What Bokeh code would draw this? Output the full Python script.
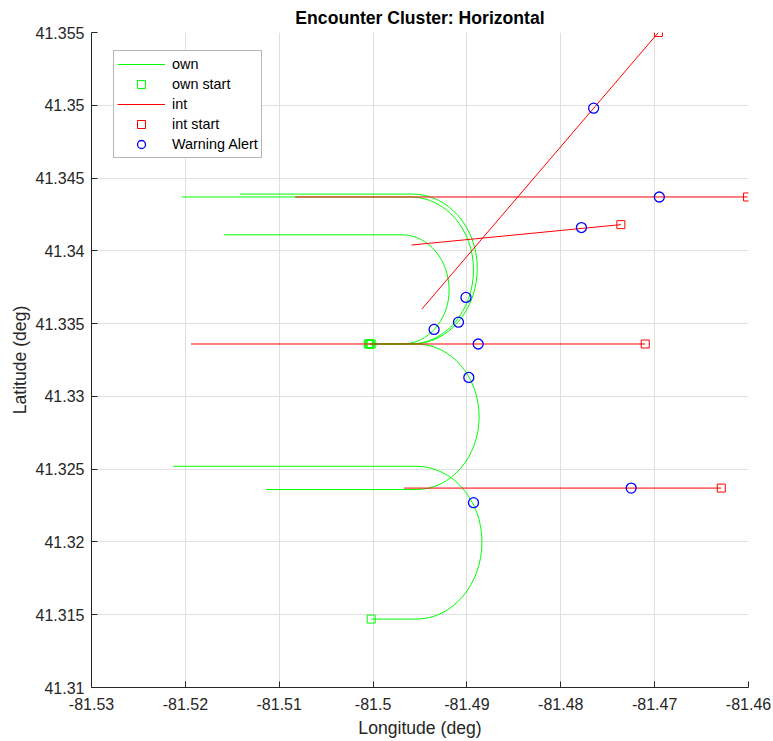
from bokeh.plotting import figure
from bokeh.models import Range1d, FixedTicker, Legend, LegendItem, ColumnDataSource
from bokeh.embed import file_html
from bokeh.resources import INLINE

TITLE = "Encounter Cluster: Horizontal"
X_LABEL = "Longitude (deg)"
Y_LABEL = "Latitude (deg)"

x_ticks = [-81.53, -81.52, -81.51, -81.50, -81.49, -81.48, -81.47, -81.46]
x_tick_labels = ["-81.53", "-81.52", "-81.51", "-81.5", "-81.49", "-81.48", "-81.47", "-81.46"]
y_ticks = [41.31, 41.315, 41.32, 41.325, 41.33, 41.335, 41.34, 41.345, 41.35, 41.355]
y_tick_labels = ["41.31", "41.315", "41.32", "41.325", "41.33", "41.335", "41.34", "41.345", "41.35", "41.355"]

# Own-ship tracks, waypoints: [start, turn entry, turn apex, turn exit, end]
own_lon = [
    [-81.5005, -81.4958, -81.4889, -81.4958, -81.5142],
    [-81.5004, -81.4960, -81.4893, -81.4960, -81.5204],
    [-81.5003, -81.4969, -81.4919, -81.4969, -81.5159],
    [-81.5002, -81.4954, -81.4887, -81.4954, -81.5114],
    [-81.5002, -81.4954, -81.4884, -81.4954, -81.5213],
]
own_lat = [
    [41.3336, 41.3336, 41.3388, 41.3439, 41.3439],
    [41.3336, 41.3336, 41.3387, 41.3437, 41.3437],
    [41.3336, 41.3336, 41.3373, 41.3411, 41.3411],
    [41.3336, 41.3336, 41.3286, 41.3236, 41.3236],
    [41.3147, 41.3147, 41.3200, 41.3252, 41.3252],
]

# Intruder tracks: [start, end]
int_lon = [
    [-81.4696, -81.4948],
    [-81.4601, -81.5083],
    [-81.4736, -81.4959],
    [-81.4710, -81.5194],
    [-81.4629, -81.4967],
]
int_lat = [
    [41.3550, 41.3360],
    [41.3437, 41.3437],
    [41.3418, 41.3404],
    [41.3336, 41.3336],
    [41.3237, 41.3237],
]

# Warning alerts
alert_lon = [-81.4765, -81.4695, -81.4778, -81.4901, -81.4909, -81.4935, -81.4888, -81.4898, -81.4893, -81.4725]
alert_lat = [41.3498, 41.3437, 41.3416, 41.3368, 41.3351, 41.3346, 41.3336, 41.3313, 41.3227, 41.3237]

GREEN = "#00ff00"
RED = "#ff0000"
BLUE = "#0000ff"
AX = "#262626"
FONT = "Liberation Sans"

p = figure(width=773, height=741, output_backend="svg", toolbar_location=None,
           x_range=Range1d(-81.53, -81.46), y_range=Range1d(41.31, 41.355),
           min_border_left=91, min_border_right=25, min_border_top=32, min_border_bottom=54,
           title=TITLE)
p.outline_line_color = None
p.background_fill_color = "white"
p.border_fill_color = "white"

p.title.align = "center"
p.title.text_font = FONT
p.title.text_font_size = "17.6px"
p.title.text_font_style = "bold"
p.title.text_color = "#000000"
p.title.standoff = 9

p.xaxis.ticker = FixedTicker(ticks=x_ticks)
p.yaxis.ticker = FixedTicker(ticks=y_ticks)
p.xaxis.major_label_overrides = dict(zip(x_ticks, x_tick_labels))
p.yaxis.major_label_overrides = dict(zip(y_ticks, y_tick_labels))
for ax in (p.xaxis, p.yaxis):
    ax.axis_line_color = AX
    ax.major_tick_line_color = AX
    ax.major_tick_in = 6
    ax.major_tick_out = 0
    ax.minor_tick_line_color = None
    ax.major_label_text_font = FONT
    ax.major_label_text_font_size = "16px"
    ax.major_label_text_color = AX
    ax.axis_label_text_font = FONT
    ax.axis_label_text_font_size = "17.6px"
    ax.axis_label_text_font_style = "normal"
    ax.axis_label_text_color = AX
p.xaxis.axis_label = X_LABEL
p.yaxis.axis_label = Y_LABEL
p.xaxis.major_label_standoff = 10
p.xaxis.axis_label_standoff = 5
p.yaxis.major_label_standoff = 7
p.yaxis.axis_label_standoff = 3

p.grid.grid_line_color = "#dfdfdf"
p.grid.grid_line_width = 1

# Own tracks: straight legs + turn (two quarter curves)
K = 0.5523
seg_xs, seg_ys = [], []
bz = dict(x0=[], y0=[], x1=[], y1=[], cx0=[], cy0=[], cx1=[], cy1=[])
for lon, lat in zip(own_lon, own_lat):
    seg_xs += [[lon[0], lon[1]], [lon[3], lon[4]]]
    seg_ys += [[lat[0], lat[1]], [lat[3], lat[4]]]
    for a, b, c in [((lon[1], lat[1]), (lon[2], lat[2]), (lon[2], lat[1])),
                    ((lon[2], lat[2]), (lon[3], lat[3]), (lon[2], lat[3]))]:
        bz["x0"].append(a[0]); bz["y0"].append(a[1])
        bz["x1"].append(b[0]); bz["y1"].append(b[1])
        bz["cx0"].append(a[0] + K * (c[0] - a[0])); bz["cy0"].append(a[1] + K * (c[1] - a[1]))
        bz["cx1"].append(b[0] + K * (c[0] - b[0])); bz["cy1"].append(b[1] + K * (c[1] - b[1]))

own_r = p.multi_line(xs=seg_xs, ys=seg_ys, line_color=GREEN, line_width=1)
p.bezier(x0="x0", y0="y0", x1="x1", y1="y1", cx0="cx0", cy0="cy0", cx1="cx1", cy1="cy1",
         source=ColumnDataSource(bz), line_color=GREEN, line_width=1)
own_start_r = p.scatter(x=[l[0] for l in own_lon], y=[l[0] for l in own_lat], marker="square",
                        size=8, fill_color=None, line_color=GREEN, line_width=1)

int_r = p.multi_line(xs=int_lon, ys=int_lat, line_color=RED, line_width=1)
int_start_r = p.scatter(x=[l[0] for l in int_lon], y=[l[0] for l in int_lat], marker="square",
                        size=8, fill_color=None, line_color=RED, line_width=1)

alert_r = p.scatter(x=alert_lon, y=alert_lat, marker="circle", size=10,
                    fill_color=None, line_color=BLUE, line_width=1.3)

legend = Legend(items=[
    LegendItem(label="own", renderers=[own_r]),
    LegendItem(label="own start", renderers=[own_start_r]),
    LegendItem(label="int", renderers=[int_r]),
    LegendItem(label="int start", renderers=[int_start_r]),
    LegendItem(label="Warning Alert", renderers=[alert_r]),
], location=(22, 529))
legend.padding = 3
legend.margin = 0
legend.spacing = 0
legend.glyph_width = 48
legend.glyph_height = 20
legend.label_height = 20
legend.label_standoff = 7
legend.label_text_font = FONT
legend.label_text_font_size = "14.4px"
legend.label_text_color = "#000000"
legend.border_line_color = "#707070"
legend.border_line_width = 1
legend.background_fill_color = "white"
legend.background_fill_alpha = 1
p.add_layout(legend, "center")

open("out.html", "w").write(file_html(p, INLINE))
